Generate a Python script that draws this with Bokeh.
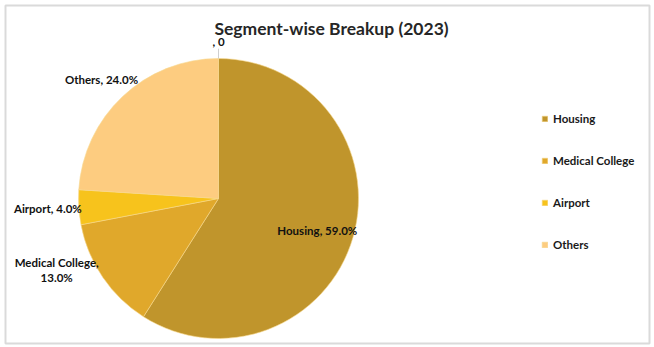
import math
from bokeh.plotting import figure
from bokeh.models import Range1d, ColumnDataSource, Legend, LegendItem
from bokeh.core.properties import value
from bokeh.embed import file_html
from bokeh.resources import INLINE

# ---- data ----
title = "Segment-wise Breakup (2023)"
categories = ["Housing", "Medical College", "Airport", "Others"]
shares = [59.0, 13.0, 4.0, 24.0]
colors = ["#C0952C", "#E0A82B", "#F7C31C", "#FDCC80"]
zero_label = ", 0"

# ---- layout ----
W, H = 654, 347
cx, cy, R = 218, 149, 140
FONT = "Lato"
LAB_SIZE = "11.5px"

p = figure(width=W, height=H, output_backend="svg", toolbar_location=None,
           x_range=Range1d(0, W), y_range=Range1d(0, H), min_border=0,
           background_fill_color="white", border_fill_color="white")
p.axis.visible = False
p.grid.visible = False
p.outline_line_color = None

# frame border
p.rect(x=[W / 2], y=[H / 2 - 0.5], width=[W - 10], height=[H - 9],
       fill_color=None, line_color="#DADADA", line_width=2)

# wedge angles: start at top, clockwise
total = sum(shares)
starts, ends, mids = [], [], []
acc = 0.0
for s in shares:
    a0 = math.pi / 2 - 2 * math.pi * acc / total
    acc += s
    a1 = math.pi / 2 - 2 * math.pi * acc / total
    starts.append(a0)
    ends.append(a1)
    mids.append((a0 + a1) / 2)

src = ColumnDataSource(dict(cat=categories, share=shares, color=colors,
                            start=starts, end=ends))
wr = p.wedge(x=cx, y=cy, radius=R, start_angle="start", end_angle="end",
             direction="clock", fill_color="color", line_color="#F6D98E",
             line_width=0.6, source=src)

# data labels
lab_factor = [0.72, 1.0, 1.0, 1.2]
lab_align = ["center", "center", "right", "center"]
lab_xoff = [2, -46, 3, -2]
lab_yoff = [4, -7, 1, 3]
for i, c in enumerate(categories):
    x = cx + R * lab_factor[i] * math.cos(mids[i])
    y = cy + R * lab_factor[i] * math.sin(mids[i])
    sep = "\n" if c == "Medical College" else " "
    txt = f"{c},{sep}{shares[i]:.1f}%"
    p.text(x=[x], y=[y], text=[txt], text_font=value(FONT), text_font_style="bold",
           text_font_size=LAB_SIZE, text_color="#111111", text_align=lab_align[i],
           text_baseline="middle", x_offset=lab_xoff[i], y_offset=lab_yoff[i],
           text_line_height=1.2)

# zero-value label at top with short leader
p.segment(x0=[cx], y0=[cy + R * 1.0], x1=[cx], y1=[cy + R * 1.07],
          line_color="#D0D0D0", line_width=1)
p.text(x=[cx], y=[cy + R * 1.12], text=[zero_label], text_font=value(FONT),
       text_font_style="bold", text_font_size=LAB_SIZE, text_color="#111111",
       text_align="center", text_baseline="middle")

# title
p.text(x=[331], y=[H - 28], text=[title], text_font=value(FONT),
       text_font_style="bold", text_font_size="17.5px", text_color="#262626",
       text_align="center", text_baseline="middle")

# legend
items = [LegendItem(label=c, renderers=[wr], index=i) for i, c in enumerate(categories)]
legend = Legend(items=items, location=(541, 93), orientation="vertical",
                glyph_width=7, glyph_height=7, label_height=20, spacing=22,
                label_standoff=5, padding=0, margin=0,
                border_line_color=None, background_fill_alpha=0,
                label_text_font=FONT, label_text_font_style="bold",
                label_text_font_size=LAB_SIZE, label_text_color="#1A1A1A")
p.add_layout(legend, "center")

open("out.html", "w").write(file_html(p, INLINE))
